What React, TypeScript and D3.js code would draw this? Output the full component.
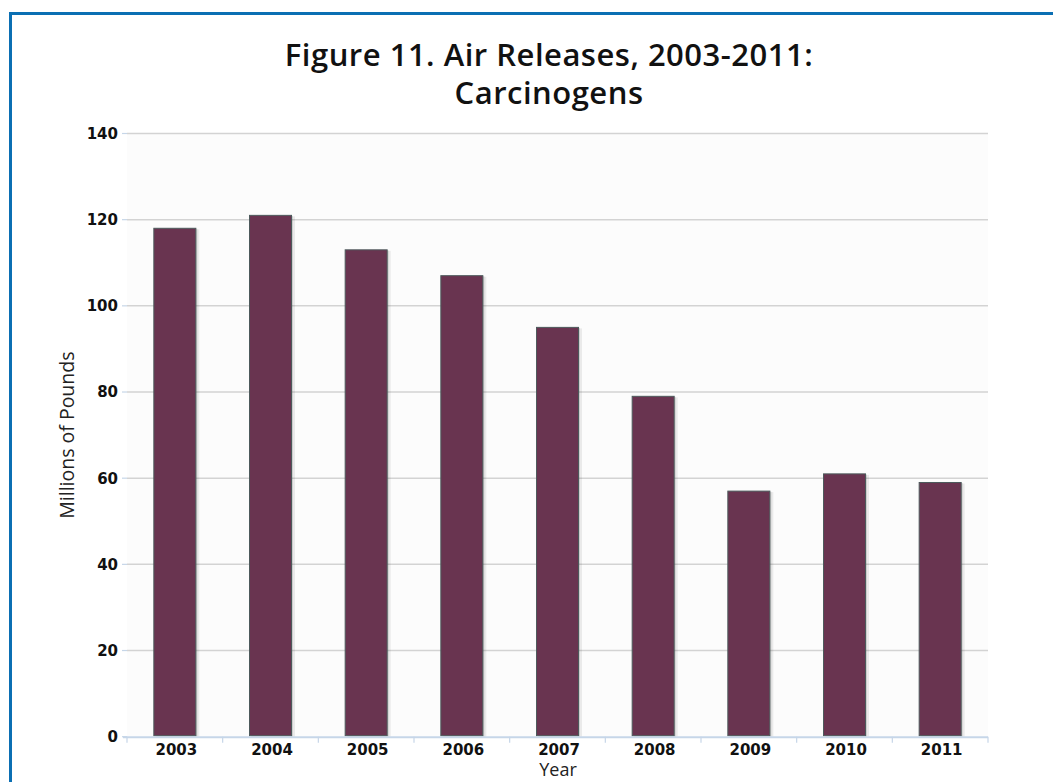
import React from "react";
import * as d3 from "d3";

const years = ["2003", "2004", "2005", "2006", "2007", "2008", "2009", "2010", "2011"];
const values = [118, 121, 113, 107, 95, 79, 57, 61, 59];
const yTicks = [0, 20, 40, 60, 80, 100, 120, 140];
const titleLines = ["Figure 11. Air Releases, 2003-2011:", "Carcinogens"];
const yAxisTitle = "Millions of Pounds";
const xAxisTitle = "Year";

const W = 1053;
const H = 782;
const plot = { left: 127, right: 988, top: 133.5, bottom: 736.7 };

export default function App() {
  const x = d3
    .scaleBand<string>()
    .domain(years)
    .range([plot.left, plot.right])
    .paddingInner(0.561)
    .paddingOuter(0.2805);
  const y = d3.scaleLinear().domain([0, 140]).range([plot.bottom, plot.top]);
  const step = x.step();
  const catEdges = d3.range(years.length + 1).map((i) => plot.left + i * step);
  const bw = x.bandwidth();
  const titleFont = "'Open Sans', Lato, sans-serif";
  const tickFont = "'DejaVu Sans', Verdana, sans-serif";

  return (
    <svg
      width={W}
      height={H}
      style={{ position: "absolute", left: 0, top: 0, background: "#ffffff" }}
    >
      <rect x={10.5} y={13.5} width={W + 20} height={H + 20} fill="#ffffff" stroke="#0b6fb3" strokeWidth={3} />
      <rect x={plot.left} y={plot.top} width={plot.right - plot.left} height={plot.bottom - plot.top} fill="#fcfcfc" />

      {titleLines.map((t, i) => (
        <text
          key={t}
          x={549}
          y={66 + i * 38}
          textAnchor="middle"
          fontFamily={titleFont}
          fontWeight={600}
          fontSize={31}
          letterSpacing={0.5}
          fill="#111111"
        >
          {t}
        </text>
      ))}

      {yTicks.map((v) => (
        <g key={v}>
          {v > 0 && (
            <line x1={plot.left} x2={plot.right} y1={y(v)} y2={y(v)} stroke="#d3d3d3" strokeWidth={1.5} />
          )}
          <line x1={plot.left - 5} x2={plot.left} y1={y(v)} y2={y(v)} stroke="#c6d6e8" strokeWidth={1.2} />
          <text
            x={118}
            y={y(v)}
            dy="0.36em"
            textAnchor="end"
            fontFamily={tickFont}
            fontWeight={700}
            fontSize={15}
            fill="#111111"
          >
            {v}
          </text>
        </g>
      ))}

      {years.map((yr, i) => {
        const bx = x(yr)!;
        const by = y(values[i]);
        const bh = plot.bottom - by;
        return (
          <g key={yr}>
            <rect x={bx + 2.5} y={by + 1} width={bw + 1} height={bh - 1} fill="#000" opacity={0.07} />
            <rect x={bx + 1.5} y={by + 0.5} width={bw} height={bh - 0.5} fill="#000" opacity={0.12} />
            <rect x={bx} y={by} width={bw} height={bh - 1} fill="#693450" stroke="#4d5a5c" strokeWidth={1} />
          </g>
        );
      })}

      <line x1={plot.left - 4} x2={plot.right} y1={plot.bottom + 0.5} y2={plot.bottom + 0.5} stroke="#c6d6e8" strokeWidth={2} />
      {catEdges.map((cx, i) => (
        <line key={i} x1={cx} x2={cx} y1={plot.bottom} y2={plot.bottom + 6} stroke="#c6d6e8" strokeWidth={1.2} />
      ))}

      {years.map((yr) => (
        <text
          key={yr}
          x={x(yr)! + bw / 2 + 1.5}
          y={755}
          textAnchor="middle"
          fontFamily={tickFont}
          fontWeight={700}
          fontSize={15}
          fill="#111111"
        >
          {yr}
        </text>
      ))}

      <text
        transform={`translate(74, ${(plot.top + plot.bottom) / 2}) rotate(-90)`}
        textAnchor="middle"
        fontFamily="'Open Sans', sans-serif"
        fontSize={19.5}
        fill="#222222"
      >
        {yAxisTitle}
      </text>
      <text
        x={558}
        y={776}
        textAnchor="middle"
        fontFamily="'Open Sans', sans-serif"
        fontSize={18}
        fill="#222222"
      >
        {xAxisTitle}
      </text>
    </svg>
  );
}
